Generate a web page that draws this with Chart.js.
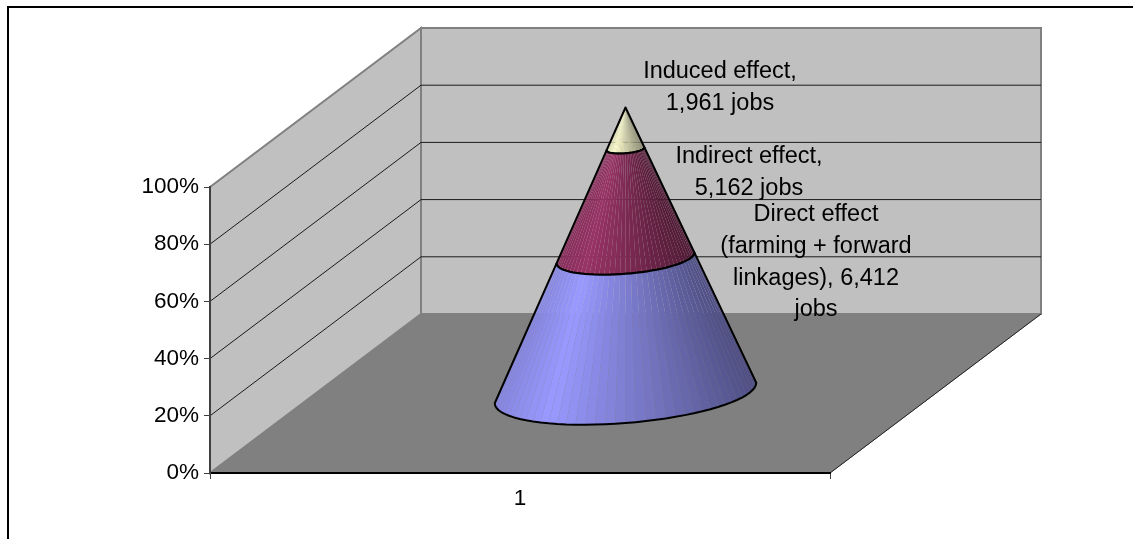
<!DOCTYPE html>
<html>
<head>
<meta charset="utf-8">
<title>Job effects</title>
<script src="https://cdn.jsdelivr.net/npm/chart.js@4"></script>
<style>
    html, body { margin: 0; padding: 0; background: #fff; }
    canvas { display: block; }
</style>
</head>
<body>
<canvas id="coneChart" width="1133" height="539"></canvas>
<script>
const categories = ['1'];
const seriesNames = ['Direct effect', 'Indirect effect', 'Induced effect'];
const jobs = [6412, 5162, 1961];
const seriesColors = ['#9999ff', '#993366', '#ffffcc'];
const tickValues = [0, 20, 40, 60, 80, 100];

const labelLines = [
    ['Direct effect', '(farming + forward', 'linkages), 6,412', 'jobs'],
    ['Indirect effect,', '5,162 jobs'],
    ['Induced effect,', '1,961 jobs']
];
const labelCentres = [[816, 215], [749, 157], [720, 72]];

const totalJobs = jobs.reduce((a, b) => a + b, 0);
const shares = jobs.map(v => v / totalJobs * 100);

// Desplazamiento de la profundidad (pared frontal -> pared de fondo)
const DEPTH_X = 211;
const DEPTH_Y = -159;
const BASE_TILT = 0.2;
const STRIPS = 40;
const FONT_SIZE = 22.5;
const LABEL_FONT_SIZE = 23.5;

function shadeColor(hex, u) {
    const f = u < 0.2 ? 0.88 + 0.6 * u : 1 - 0.6 * (u - 0.2);
    const n = parseInt(hex.slice(1), 16);
    return `rgb(${Math.round((n >> 16) * f)}, ${Math.round(((n >> 8) & 255) * f)}, ${Math.round((n & 255) * f)})`;
}

// Fondo: marco, paredes, suelo y rejilla
const boxPlugin = {
    id: 'box3d',
    beforeDraw(chart) {
        const { ctx, chartArea: a, scales: { y } } = chart;
        ctx.save();
        ctx.strokeStyle = '#000';
        ctx.lineWidth = 2;
        ctx.beginPath();
        ctx.moveTo(8, 539);
        ctx.lineTo(8, 7);
        ctx.lineTo(1133, 7);
        ctx.stroke();

        const poly = (pts, fill, stroke, w) => {
            ctx.beginPath();
            pts.forEach((p, i) => i ? ctx.lineTo(p[0], p[1]) : ctx.moveTo(p[0], p[1]));
            ctx.closePath();
            ctx.fillStyle = fill;
            ctx.fill();
            ctx.strokeStyle = stroke;
            ctx.lineWidth = w;
            ctx.stroke();
        };
        const L = a.left, R = a.right, T = a.top, B = a.bottom;
        // pared de fondo
        poly([[L + DEPTH_X, T + DEPTH_Y], [R + DEPTH_X, T + DEPTH_Y], [R + DEPTH_X, B + DEPTH_Y], [L + DEPTH_X, B + DEPTH_Y]], '#c0c0c0', '#808080', 2);
        // pared izquierda
        poly([[L, T], [L + DEPTH_X, T + DEPTH_Y], [L + DEPTH_X, B + DEPTH_Y], [L, B]], '#c0c0c0', '#808080', 2);
        // suelo
        poly([[L, B], [R, B], [R + DEPTH_X, B + DEPTH_Y], [L + DEPTH_X, B + DEPTH_Y]], '#808080', '#808080', 1);

        ctx.strokeStyle = '#1a1a1a';
        ctx.lineWidth = 1;
        tickValues.slice(1, -1).forEach(v => {
            const py = y.getPixelForValue(v);
            ctx.beginPath();
            ctx.moveTo(L, py);
            ctx.lineTo(L + DEPTH_X, py + DEPTH_Y);
            ctx.lineTo(R + DEPTH_X, py + DEPTH_Y);
            ctx.stroke();
        });
        // borde delantero derecho del suelo
        ctx.strokeStyle = '#222';
        ctx.beginPath();
        ctx.moveTo(R, B);
        ctx.lineTo(R + DEPTH_X, B + DEPTH_Y);
        ctx.stroke();
        ctx.restore();
    }
};

// Cada barra apilada se dibuja como un tramo del cono
const conePlugin = {
    id: 'cone',
    beforeDatasetDraw(chart, args) {
        const { ctx, scales: { y } } = chart;
        const bar = args.meta.data[0];
        const color = chart.data.datasets[args.index].backgroundColor;
        const cx = bar.x + DEPTH_X / 2;
        const baseY = y.getPixelForValue(0) + DEPTH_Y / 2;
        const apexY = y.getPixelForValue(100) + DEPTH_Y / 2;
        const w = bar.width / 2;
        const dk = DEPTH_X * BASE_TILT;
        const dz = DEPTH_Y * BASE_TILT;
        const phi = Math.atan2(dk, w);
        const reach = Math.hypot(w, dk);

        const edgePoint = (valuePixel, t) => {
            const cy = valuePixel + DEPTH_Y / 2;
            const r = (cy - apexY) / (baseY - apexY);
            return [cx + r * (w * Math.cos(t) + dk * Math.sin(t)), cy + r * dz * Math.sin(t)];
        };
        // de la tangente izquierda a la derecha, por delante del cono
        const t0 = Math.PI + phi;
        const t1 = 2 * Math.PI + phi;
        const angle = i => t0 + (t1 - t0) * i / STRIPS;

        ctx.save();
        for (let i = 0; i < STRIPS; i++) {
            const a = angle(i), b = angle(i + 1);
            const p = [edgePoint(bar.base, a), edgePoint(bar.base, b), edgePoint(bar.y, b), edgePoint(bar.y, a)];
            const mid = (a + b) / 2;
            const u = (w * Math.cos(mid) + dk * Math.sin(mid) + reach) / (2 * reach);
            ctx.beginPath();
            p.forEach((q, k) => k ? ctx.lineTo(q[0], q[1]) : ctx.moveTo(q[0], q[1]));
            ctx.closePath();
            ctx.fillStyle = shadeColor(color, u);
            ctx.fill();
        }
        ctx.beginPath();
        for (let i = 0; i <= STRIPS; i++) {
            const q = edgePoint(bar.base, angle(i));
            i ? ctx.lineTo(q[0], q[1]) : ctx.moveTo(q[0], q[1]);
        }
        for (let i = STRIPS; i >= 0; i--) {
            const q = edgePoint(bar.y, angle(i));
            ctx.lineTo(q[0], q[1]);
        }
        ctx.closePath();
        ctx.strokeStyle = '#000';
        ctx.lineWidth = 2;
        ctx.lineJoin = 'round';
        ctx.stroke();
        ctx.restore();
        return false;
    },
    afterDatasetsDraw(chart) {
        const { ctx } = chart;
        ctx.save();
        ctx.font = `${LABEL_FONT_SIZE}px 'Liberation Sans'`;
        ctx.fillStyle = '#000';
        ctx.textAlign = 'center';
        ctx.textBaseline = 'middle';
        labelLines.forEach((lines, i) => {
            lines.forEach((line, k) => {
                ctx.fillText(line, labelCentres[i][0], labelCentres[i][1] + k * 31.6);
            });
        });
        ctx.restore();
    }
};

Chart.defaults.font.family = "'Liberation Sans'";
Chart.defaults.color = '#000';

new Chart(document.getElementById('coneChart'), {
    type: 'bar',
    data: {
        labels: categories,
        datasets: seriesNames.map((name, i) => ({
            label: name,
            data: [shares[i]],
            backgroundColor: seriesColors[i]
        }))
    },
    options: {
        responsive: false,
        animation: false,
        barPercentage: 0.4,
        categoryPercentage: 1,
        layout: { padding: { top: 187, right: 303 } },
        plugins: { legend: { display: false }, tooltip: { enabled: false } },
        scales: {
            x: {
                stacked: true,
                afterFit(scale) { scale.height = 66; },
                grid: { drawOnChartArea: false, tickLength: 6, color: '#404040' },
                border: { display: true, color: '#000', width: 2 },
                ticks: { font: { size: FONT_SIZE }, padding: 6 }
            },
            y: {
                stacked: true,
                min: 0,
                max: 100,
                afterFit(scale) { scale.width = 210; },
                afterBuildTicks(scale) { scale.ticks = tickValues.map(value => ({ value })); },
                grid: { drawOnChartArea: false, tickLength: 6, color: '#404040' },
                border: { display: true, color: '#404040', width: 2 },
                ticks: { font: { size: FONT_SIZE }, padding: 5, callback: v => v + '%' }
            }
        }
    },
    plugins: [boxPlugin, conePlugin]
});
</script>
</body>
</html>
